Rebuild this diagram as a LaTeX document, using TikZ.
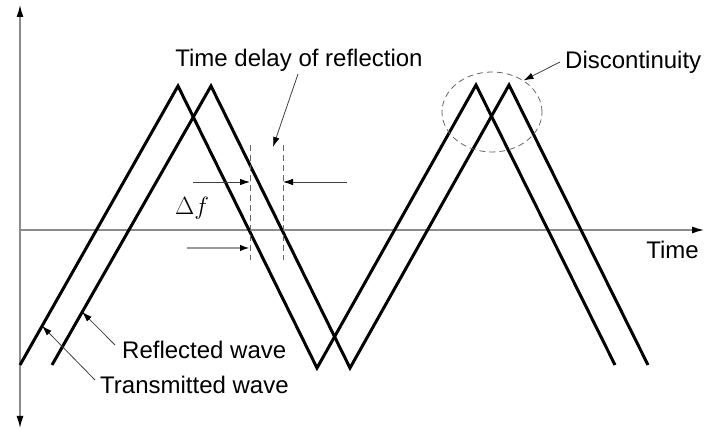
\documentclass[tikz,border=0pt]{standalone}
\usepackage{fontspec}
\setmainfont{Liberation Sans}
\usepackage{amsmath}
\usepackage{tikz}
\usetikzlibrary{arrows.meta,shapes.geometric,calc}

\begin{document}
\begin{tikzpicture}[x=1pt,y=1pt,>=Latex,
    wave/.style={line width=3pt, line join=miter},
    axis/.style={line width=1.3pt, black!45},
    guide/.style={line width=0.9pt, black!60, dash pattern=on 6pt off 4pt},
    pointer/.style={->, line width=0.8pt, black!75, >={Latex[length=10pt,width=6.5pt,black]}},
    label/.style={inner sep=0pt, font=\fontsize{24}{28}\selectfont}]
    \useasboundingbox (0,0) rectangle (704,430);

    % Axes
    \coordinate (ytop) at (20,425);
    \coordinate (ybot) at (20,2);
    \coordinate (xleft) at (20,200);
    \coordinate (xright) at (704,200);
    \draw[axis, {Latex[length=12pt,width=7pt,black]}-{Latex[length=12pt,width=7pt,black]}] (ybot) -- (ytop);
    \draw[axis, -{Latex[length=12pt,width=7pt,black]}] (xleft) -- (xright);
    \node[label, anchor=east] (time) at (699,180) {Time};

    % Transmitted wave
    \coordinate (t0) at (20,65);
    \coordinate (t1) at (178,344);
    \coordinate (t2) at (317,62);
    \coordinate (t3) at (476,345);
    \coordinate (t4) at (615,65);
    \draw[wave] (t0) -- (t1) -- (t2) -- (t3) -- (t4);

    % Reflected wave
    \coordinate (r0) at (52,65);
    \coordinate (r1) at (211,344);
    \coordinate (r2) at (350,62);
    \coordinate (r3) at (509,345);
    \coordinate (r4) at (648,65);
    \draw[wave] (r0) -- (r1) -- (r2) -- (r3) -- (r4);

    % Delay markers
    \coordinate (d1top) at (250,285);
    \coordinate (d1bot) at (250,170);
    \coordinate (d2top) at (283,285);
    \coordinate (d2bot) at (283,170);
    \draw[guide] (d1top) -- (d1bot);
    \draw[guide] (d2top) -- (d2bot);
    \coordinate (da) at (193,248);
    \coordinate (db) at (250,248);
    \coordinate (dc) at (347,248);
    \coordinate (dd) at (283,248);
    \coordinate (de) at (187,182);
    \coordinate (df) at (250,182);
    \draw[pointer] (da) -- (db);
    \draw[pointer] (dc) -- (dd);
    \draw[pointer, line width=2pt, black!40] (de) -- (df);
    \node[font=\fontsize{26}{30}\selectfont] (deltaf) at (192,222) {$\Delta f$};

    % Time delay label
    \node[label] (delay) at (299,370) {Time delay of reflection};
    \coordinate (delayfrom) at (298,356);
    \coordinate (delaytip) at (273,283);
    \draw[pointer] (delayfrom) -- (delaytip);

    % Discontinuity
    \node[draw, black!60, line width=0.8pt, dash pattern=on 6pt off 4pt,
          ellipse, minimum width=100pt, minimum height=80pt, inner sep=0pt] (disc) at (492,318) {};
    \node[label, anchor=west] (disclabel) at (565,368) {Discontinuity};
    \coordinate (discfrom) at (560,368);
    \draw[pointer] (discfrom) -- (disc.45);

    % Wave labels
    \node[label, anchor=west] (refl) at (122,80) {Reflected wave};
    \node[label, anchor=west] (trans) at (100,45) {Transmitted wave};
    \coordinate (refltip) at ($(r0)!0.19!(r1)$);
    \coordinate (transtip) at ($(t0)!0.14!(t1)$);
    \coordinate (reflfrom) at (115,85);
    \coordinate (transfrom) at (95,50);
    \draw[pointer] (reflfrom) -- (refltip);
    \draw[pointer] (transfrom) -- (transtip);
\end{tikzpicture}
\end{document}
